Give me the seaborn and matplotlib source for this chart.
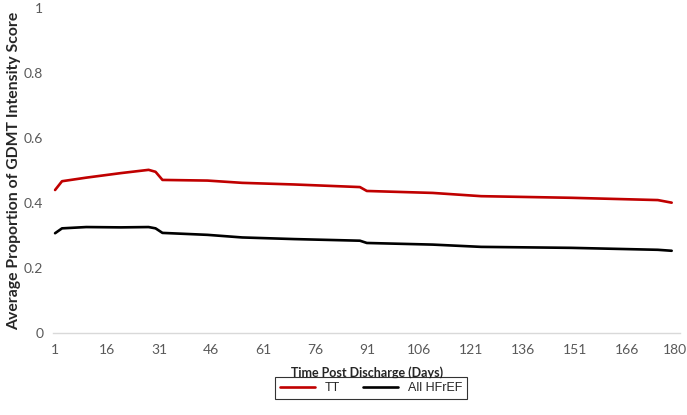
import pandas as pd
import numpy as np
import matplotlib.pyplot as plt
import seaborn as sns

# values
days = [1, 3, 10, 20, 28, 30, 32, 45, 55, 70, 89, 91, 110, 124, 150, 175, 179]
tt = [0.440, 0.467, 0.478, 0.492, 0.502, 0.496, 0.471, 0.469, 0.462, 0.457,
      0.449, 0.437, 0.431, 0.421, 0.416, 0.409, 0.401]
all_hfref = [0.307, 0.322, 0.326, 0.325, 0.326, 0.322, 0.308, 0.302, 0.294, 0.289,
             0.284, 0.277, 0.272, 0.265, 0.262, 0.256, 0.253]
groups = ['TT', 'All HFrEF']
colors = ['#c00000', '#000000']
xticks = [1, 16, 31, 46, 61, 76, 91, 106, 121, 136, 151, 166, 180]
yticks = [0, 0.2, 0.4, 0.6, 0.8, 1]
yticklabels = ['0', '0.2', '0.4', '0.6', '0.8', '1']

df = pd.DataFrame({
    'day': days + days,
    'score': tt + all_hfref,
    'group': [groups[0]] * len(days) + [groups[1]] * len(days),
})

sns.set_style('white')
plt.rcParams['font.family'] = ['Lato', 'DejaVu Sans']

fig = plt.figure(figsize=(6.87, 4.15), dpi=100)
ax = fig.add_axes([53 / 687, 1 - 333 / 415, 627 / 687, 325 / 415])

sns.lineplot(data=df, x='day', y='score', hue='group', hue_order=groups,
             palette=colors, linewidth=1.9, ax=ax, legend=False)

ax.set_xlim(0.4, 181.4)
ax.set_ylim(0, 1)
ax.set_xticks(xticks)
ax.set_yticks(yticks)
ax.set_yticklabels(yticklabels)
ax.tick_params(axis='both', length=0, labelsize=10, colors='#595959')
ax.tick_params(axis='x', pad=8)
ax.tick_params(axis='y', pad=7)

for s in ['top', 'right', 'left']:
    ax.spines[s].set_visible(False)
ax.spines['bottom'].set_color('#d9d9d9')
ax.spines['bottom'].set_linewidth(1)

ax.set_xlabel('Time Post Discharge (Days)', fontsize=9.0, fontweight='bold')
ax.set_ylabel('Average Proportion of GDMT Intensity Score', fontsize=11.3,
              fontweight='bold')
ax.xaxis.set_label_coords((367 - 53) / 627, -(366 - 333) / 325)
ax.yaxis.set_label_coords(-(53 - 21) / 627, 0.5)

handles = [plt.Line2D([], [], color=c, linewidth=1.9) for c in colors]
leg = fig.legend(handles, groups, loc='center', bbox_to_anchor=(371 / 687, 1 - 388 / 415),
                 ncol=2, frameon=True, fancybox=False, handlelength=2.8,
                 columnspacing=1.8, prop={'family': 'Liberation Sans', 'size': 9},
                 borderpad=0.4)
leg.get_frame().set_edgecolor('#000000')
leg.get_frame().set_linewidth(0.8)

fig.savefig('out.png', dpi=100)
